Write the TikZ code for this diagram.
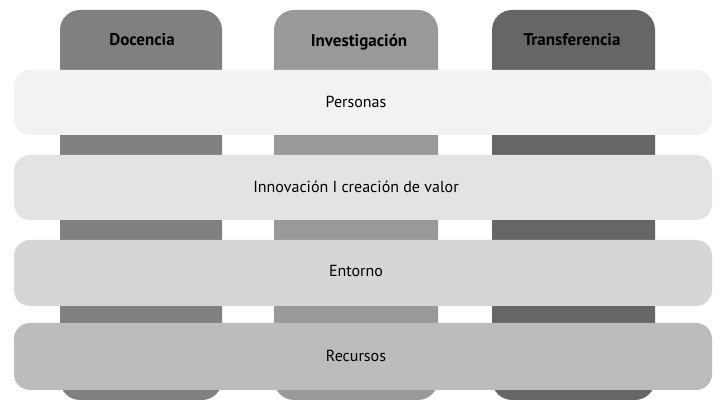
\documentclass[tikz,border=0pt]{standalone}
\usepackage{fontspec}
\setmainfont{PT Sans}
\definecolor{cdoc}{HTML}{808080}
\definecolor{cinv}{HTML}{999999}
\definecolor{ctra}{HTML}{666666}
\definecolor{bA}{HTML}{F2F2F2}
\definecolor{bB}{HTML}{E3E3E3}
\definecolor{bC}{HTML}{D6D6D6}
\definecolor{bD}{HTML}{BCBCBC}
\begin{document}
\begin{tikzpicture}[x=1pt,y=-1pt,
  pillar/.style={rounded corners=20pt},
  plabel/.style={font=\bfseries\fontsize{17}{20}\selectfont, text=black},
  band/.style={rounded corners=16pt},
  blabel/.style={font=\fontsize{16}{19}\selectfont, text=black}]
\useasboundingbox (0,0) rectangle (721,411);
\fill[white] (0,0) rectangle (721,411);
\fill[cdoc,pillar] (60,10) rectangle (222,400);
\fill[cinv,pillar] (274,10) rectangle (438,400);
\fill[ctra,pillar] (492,10) rectangle (655,400);
\node[plabel] (doc) at (142,40) {Docencia};
\node[plabel] (inv) at (359,42) {Investigación};
\node[plabel] (tra) at (572,40) {Transferencia};
\fill[bA,band] (14,70) rectangle (712,135);
\fill[bB,band] (14,155) rectangle (712,220);
\fill[bC,band] (14,240) rectangle (712,306);
\fill[bD,band] (14,323) rectangle (712,390);
\node[blabel] (per) at (356,102) {Personas};
\node[blabel] (inn) at (356,187) {Innovación I creación de valor};
\node[blabel] (ent) at (356,271) {Entorno};
\node[blabel] (rec) at (356,356) {Recursos};
\end{tikzpicture}
\end{document}
